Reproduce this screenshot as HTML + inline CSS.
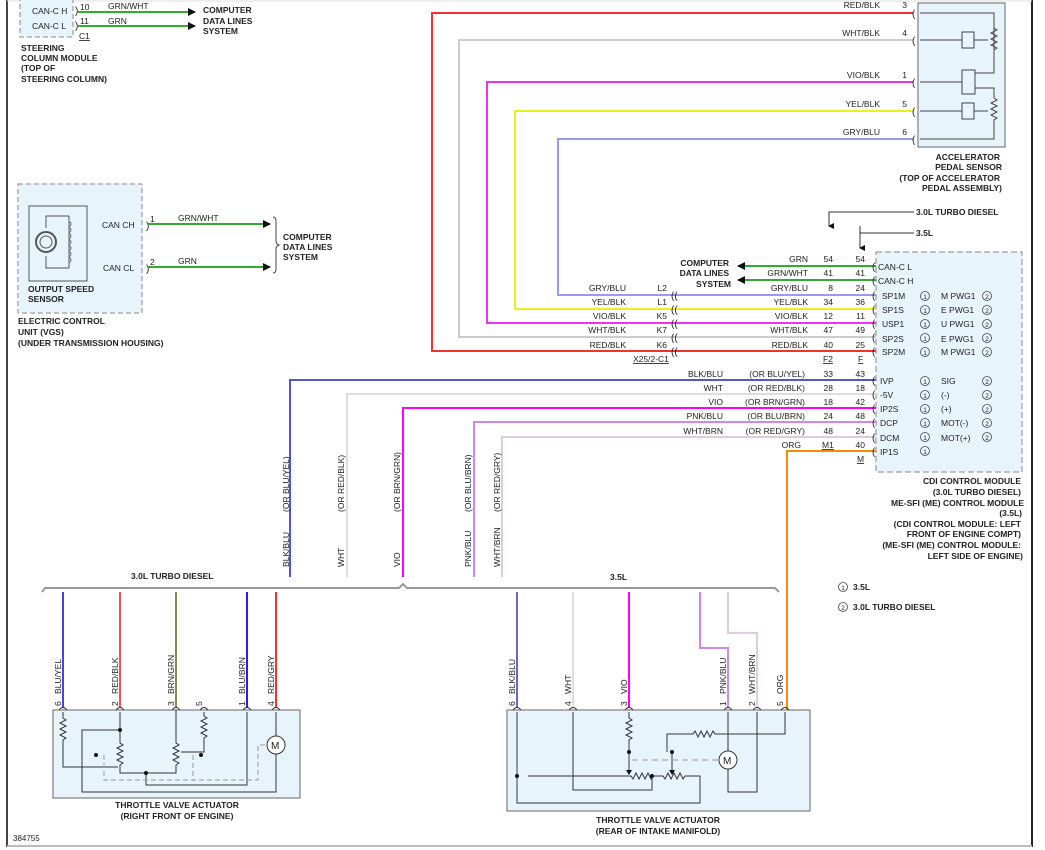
<!DOCTYPE html>
<html><head><meta charset="utf-8"><style>
html,body{margin:0;padding:0;background:#fff;}
svg{display:block;font-family:"Liberation Sans",sans-serif;font-size:8.5px;fill:#222;}
text{fill:#222;}
.b{font-weight:bold;}
</style></head><body>
<svg width="1045" height="850" viewBox="0 0 1045 850" xmlns="http://www.w3.org/2000/svg">
<defs>
<marker id="ar" markerWidth="8" markerHeight="8" refX="7" refY="4" orient="auto" markerUnits="userSpaceOnUse"><path d="M0,0 L8,4 L0,8 z" fill="#111"/></marker>
<marker id="ad" markerWidth="6" markerHeight="6" refX="3" refY="5" orient="auto" markerUnits="userSpaceOnUse"><path d="M0,0 L6,0 L3,6 z" fill="#111"/></marker>
</defs>
<!-- borders -->
<line x1="7" y1="0" x2="7" y2="847" stroke="#444" stroke-width="2"/>
<line x1="1032" y1="0" x2="1032" y2="847" stroke="#222" stroke-width="2"/>
<line x1="7" y1="846" x2="1032" y2="846" stroke="#bbb" stroke-width="2"/>
<line x1="7" y1="1" x2="1032" y2="1" stroke="#ddd" stroke-width="1"/>

<!-- steering column module -->
<rect x="20" y="-5" width="53" height="42" fill="#e8f4fb" stroke="#888" stroke-dasharray="5,3"/>
<text x="32" y="14">CAN-C H</text><text x="32" y="29">CAN-C L</text>
<text x="75" y="14" font-size="10">)</text><text x="75" y="29" font-size="10">)</text>
<text x="80" y="10">10</text><text x="80" y="24">11</text>
<text x="108" y="9">GRN/WHT</text><text x="108" y="24">GRN</text>
<text x="79" y="39" text-decoration="underline">C1</text>
<line x1="78" y1="12" x2="195" y2="12" stroke="#3a3" stroke-width="2" marker-end="url(#ar)"/>
<line x1="78" y1="26" x2="195" y2="26" stroke="#3a3" stroke-width="2" marker-end="url(#ar)"/>
<text x="203" y="13" class="b">COMPUTER</text><text x="203" y="24" class="b">DATA LINES</text><text x="203" y="34" class="b">SYSTEM</text>
<text x="21" y="51" class="b">STEERING</text><text x="21" y="61" class="b">COLUMN MODULE</text><text x="21" y="71" class="b">(TOP OF</text><text x="21" y="82" class="b">STEERING COLUMN)</text>

<!-- ECU VGS -->
<rect x="18" y="184" width="124" height="129" fill="#e8f4fb" stroke="#888" stroke-dasharray="5,3"/>
<rect x="29" y="206" width="58" height="75" fill="#e8f4fb" stroke="#555"/>
<path d="M69,216 L46,216 L46,228 M46,256 L46,268 L69,268 M69,216 L69,268" fill="none" stroke="#555"/>
<circle cx="46" cy="242" r="10" fill="none" stroke="#555" stroke-width="2"/>
<circle cx="46" cy="242" r="6" fill="none" stroke="#555"/>
<path d="M69,221 q4,3 0,6 q4,3 0,6 q4,3 0,6 q4,3 0,6 q4,3 0,6 q4,3 0,6 q4,3 0,6" fill="none" stroke="#777"/>
<text x="102" y="228">CAN CH</text><text x="103" y="271">CAN CL</text>
<text x="146" y="229" font-size="10">)</text><text x="146" y="272" font-size="10">)</text>
<text x="150" y="222">1</text><text x="150" y="265">2</text>
<text x="178" y="221">GRN/WHT</text><text x="178" y="264">GRN</text>
<line x1="148" y1="224" x2="270" y2="224" stroke="#3a3" stroke-width="2" marker-end="url(#ar)"/>
<line x1="148" y1="267" x2="270" y2="267" stroke="#3a3" stroke-width="2" marker-end="url(#ar)"/>
<path d="M273,217 q3,0 3,4 v20 q0,3 3,4 q-3,1 -3,4 v20 q0,4 -3,4" fill="none" stroke="#444"/>
<text x="283" y="240" class="b">COMPUTER</text><text x="283" y="250" class="b">DATA LINES</text><text x="283" y="260" class="b">SYSTEM</text>
<text x="28" y="292" class="b">OUTPUT SPEED</text><text x="28" y="302" class="b">SENSOR</text>
<text x="18" y="324" class="b">ELECTRIC CONTROL</text><text x="18" y="335" class="b">UNIT (VGS)</text><text x="18" y="346" class="b">(UNDER TRANSMISSION HOUSING)</text>

<!-- pedal sensor wires -->
<polyline points="913,13 432,13 432,351 876,351" fill="none" stroke="#e33" stroke-width="2"/>
<polyline points="913,40 459,40 459,337 876,337" fill="none" stroke="#ccc" stroke-width="2"/>
<polyline points="913,82 487,82 487,323 876,323" fill="none" stroke="#e3e" stroke-width="2"/>
<polyline points="913,111 515,111 515,309 876,309" fill="none" stroke="#ee2" stroke-width="2"/>
<polyline points="913,139 558,139 558,295 876,295" fill="none" stroke="#99e" stroke-width="2"/>
<g text-anchor="end"><text x="880" y="8">RED/BLK</text><text x="880" y="36">WHT/BLK</text><text x="880" y="78">VIO/BLK</text><text x="880" y="107">YEL/BLK</text><text x="880" y="135">GRY/BLU</text>
<text x="907" y="8">3</text><text x="907" y="36">4</text><text x="907" y="78">1</text><text x="907" y="107">5</text><text x="907" y="135">6</text></g>
<rect x="918" y="3" width="87" height="144" fill="#e8f4fb" stroke="#666"/>
<g font-size="10"><text x="912" y="17">(</text><text x="912" y="44">(</text><text x="912" y="86">(</text><text x="912" y="115">(</text><text x="912" y="143">(</text></g>
<g fill="none" stroke="#444">
<polyline points="920,13 994,13 994,73 975,73"/>
<line x1="920" y1="40" x2="962" y2="40"/><rect x="962" y="32" width="12" height="16"/><line x1="974" y1="40" x2="988" y2="40"/>
<path d="M994,28 l3,2 -6,3 6,3 -6,3 6,3 -6,3 6,3 -3,2"/>
<line x1="920" y1="82" x2="962" y2="82"/><rect x="962" y="70" width="13" height="24"/>
<polyline points="975,88 994,88 994,98"/>
<path d="M994,98 l3,2 -6,3 6,3 -6,3 6,3 -6,3 6,3 -3,2 v9"/>
<line x1="920" y1="111" x2="962" y2="111"/><rect x="962" y="103" width="12" height="16"/><line x1="974" y1="111" x2="988" y2="111"/>
<polyline points="920,139 994,139 994,122"/>
</g>
<g text-anchor="end" class="b"><text x="1000" y="160">ACCELERATOR</text><text x="1002" y="170">PEDAL SENSOR</text><text x="1000" y="181">(TOP OF ACCELERATOR</text><text x="1002" y="191">PEDAL ASSEMBLY)</text></g>

<!-- CDI -->
<polyline points="914,212 829,212 829,226" fill="none" stroke="#333" marker-end="url(#ad)"/>
<polyline points="914,233 860,233 860,226" fill="none" stroke="#333"/>
<line x1="860" y1="233" x2="860" y2="248" stroke="#333" marker-end="url(#ad)"/>
<text x="916" y="215" class="b">3.0L TURBO DIESEL</text><text x="916" y="236" class="b">3.5L</text>
<rect x="876" y="252" width="146" height="220" fill="#e8f4fb" stroke="#888" stroke-dasharray="6,3"/>
<line x1="876" y1="266" x2="738" y2="266" stroke="#3a3" stroke-width="2" marker-end="url(#ar)"/>
<line x1="876" y1="280" x2="738" y2="280" stroke="#3a3" stroke-width="2" marker-end="url(#ar)"/>
<g text-anchor="end" class="b"><text x="729" y="266">COMPUTER</text><text x="729" y="276">DATA LINES</text><text x="731" y="287">SYSTEM</text></g>
<!-- lower wires -->
<polyline points="876,380 290,380 290,577" fill="none" stroke="#55c" stroke-width="2"/>
<polyline points="876,394 347,394 347,577" fill="none" stroke="#ddd" stroke-width="2"/>
<polyline points="876,408 403,408 403,577" fill="none" stroke="#f0f" stroke-width="2"/>
<polyline points="876,422 474,422 474,577" fill="none" stroke="#c8e" stroke-width="2"/>
<polyline points="876,437 502,437 502,577" fill="none" stroke="#dcd" stroke-width="2"/>
<polyline points="876,451 787,451 787,710" fill="none" stroke="#f80" stroke-width="2"/>
<g text-anchor="end">
<text x="808" y="262">GRN</text><text x="808" y="276">GRN/WHT</text><text x="808" y="291">GRY/BLU</text><text x="808" y="305">YEL/BLK</text><text x="808" y="319">VIO/BLK</text><text x="808" y="333">WHT/BLK</text><text x="808" y="348">RED/BLK</text>
<text x="833" y="262">54</text><text x="833" y="276">41</text><text x="833" y="291">8</text><text x="833" y="305">34</text><text x="833" y="319">12</text><text x="833" y="333">47</text><text x="833" y="348">40</text>
<text x="865" y="262">54</text><text x="865" y="276">41</text><text x="865" y="291">24</text><text x="865" y="305">36</text><text x="865" y="319">11</text><text x="865" y="333">49</text><text x="865" y="348">25</text>
<text x="626" y="291">GRY/BLU</text><text x="626" y="305">YEL/BLK</text><text x="626" y="319">VIO/BLK</text><text x="626" y="333">WHT/BLK</text><text x="626" y="348">RED/BLK</text>
<text x="667" y="291">L2</text><text x="667" y="305">L1</text><text x="667" y="319">K5</text><text x="667" y="333">K7</text><text x="667" y="348">K6</text>
<text x="723" y="377">BLK/BLU</text><text x="723" y="391">WHT</text><text x="723" y="405">VIO</text><text x="723" y="419">PNK/BLU</text><text x="723" y="434">WHT/BRN</text>
<text x="805" y="377">(OR BLU/YEL)</text><text x="805" y="391">(OR RED/BLK)</text><text x="805" y="405">(OR BRN/GRN)</text><text x="805" y="419">(OR BLU/BRN)</text><text x="805" y="434">(OR RED/GRY)</text>
<text x="833" y="377">33</text><text x="833" y="391">28</text><text x="833" y="405">18</text><text x="833" y="419">24</text><text x="833" y="434">48</text><text x="801" y="448">ORG</text>
<text x="865" y="377">43</text><text x="865" y="391">18</text><text x="865" y="405">42</text><text x="865" y="419">48</text><text x="865" y="434">24</text><text x="865" y="448">40</text>
</g>
<text x="633" y="362" text-decoration="underline">X25/2-C1</text>
<text x="823" y="362" text-decoration="underline">F2</text><text x="858" y="362" text-decoration="underline">F</text>
<text x="822" y="448" text-decoration="underline">M1</text><text x="857" y="462" text-decoration="underline">M</text>
<g font-size="10" fill="#444"><text x="671" y="299">((</text><text x="671" y="313">((</text><text x="671" y="327">((</text><text x="671" y="341">((</text><text x="671" y="355">((</text>
<text x="872" y="270">(</text><text x="872" y="284">(</text><text x="872" y="299">(</text><text x="872" y="313">(</text><text x="872" y="327">(</text><text x="872" y="341">(</text><text x="872" y="355">(</text>
<text x="872" y="384">(</text><text x="872" y="398">(</text><text x="872" y="412">(</text><text x="872" y="426">(</text><text x="872" y="441">(</text><text x="872" y="455">(</text></g>
<text x="878" y="270">CAN-C L</text><text x="878" y="284">CAN-C H</text>
<g>
<text x="882" y="299">SP1M</text><text x="882" y="313">SP1S</text><text x="882" y="327">USP1</text><text x="882" y="342">SP2S</text><text x="882" y="355">SP2M</text>
<text x="941" y="299">M PWG1</text><text x="941" y="313">E PWG1</text><text x="941" y="327">U PWG1</text><text x="941" y="342">E PWG1</text><text x="941" y="355">M PWG1</text>
<text x="880" y="384">IVP</text><text x="880" y="398">-5V</text><text x="880" y="412">IP2S</text><text x="880" y="426">DCP</text><text x="880" y="441">DCM</text><text x="880" y="455">IP1S</text>
<text x="941" y="384">SIG</text><text x="941" y="398">(-)</text><text x="941" y="412">(+)</text><text x="941" y="426">MOT(-)</text><text x="941" y="441">MOT(+)</text>
</g>
<g fill="none" stroke="#444" stroke-width="0.8">
<circle cx="925" cy="296" r="4.5"/><circle cx="925" cy="310" r="4.5"/><circle cx="925" cy="324" r="4.5"/><circle cx="925" cy="338" r="4.5"/><circle cx="925" cy="352" r="4.5"/>
<circle cx="987" cy="296" r="4.5"/><circle cx="987" cy="310" r="4.5"/><circle cx="987" cy="324" r="4.5"/><circle cx="987" cy="338" r="4.5"/><circle cx="987" cy="352" r="4.5"/>
<circle cx="925" cy="381" r="4.5"/><circle cx="925" cy="395" r="4.5"/><circle cx="925" cy="409" r="4.5"/><circle cx="925" cy="423" r="4.5"/><circle cx="925" cy="437" r="4.5"/><circle cx="925" cy="451" r="4.5"/>
<circle cx="987" cy="381" r="4.5"/><circle cx="987" cy="395" r="4.5"/><circle cx="987" cy="409" r="4.5"/><circle cx="987" cy="423" r="4.5"/><circle cx="987" cy="437" r="4.5"/>
<circle cx="843" cy="587" r="4.5"/><circle cx="843" cy="607" r="4.5"/>
</g>
<g font-size="6.5" text-anchor="middle">
<text x="925" y="299">1</text><text x="925" y="313">1</text><text x="925" y="327">1</text><text x="925" y="341">1</text><text x="925" y="355">1</text>
<text x="987" y="299">2</text><text x="987" y="313">2</text><text x="987" y="327">2</text><text x="987" y="341">2</text><text x="987" y="355">2</text>
<text x="925" y="384">1</text><text x="925" y="398">1</text><text x="925" y="412">1</text><text x="925" y="426">1</text><text x="925" y="440">1</text><text x="925" y="454">1</text>
<text x="987" y="384">2</text><text x="987" y="398">2</text><text x="987" y="412">2</text><text x="987" y="426">2</text><text x="987" y="440">2</text>
<text x="843" y="590">1</text><text x="843" y="610">2</text>
</g>
<text x="853" y="590" class="b">3.5L</text><text x="853" y="610" class="b">3.0L TURBO DIESEL</text>
<g text-anchor="end" class="b"><text x="1021" y="484">CDI CONTROL MODULE</text><text x="1021" y="495">(3.0L TURBO DIESEL)</text><text x="1024" y="506">ME-SFI (ME) CONTROL MODULE</text><text x="1022" y="516">(3.5L)</text><text x="1021" y="527">(CDI CONTROL MODULE: LEFT</text><text x="1021" y="537">FRONT OF ENGINE COMPT)</text><text x="1021" y="548">(ME-SFI (ME) CONTROL MODULE:</text><text x="1023" y="559">LEFT SIDE OF ENGINE)</text></g>

<!-- vertical labels middle -->
<g font-size="8.5">
<text transform="translate(289,567) rotate(-90)">BLK/BLU</text><text transform="translate(289,512) rotate(-90)">(OR BLU/YEL)</text>
<text transform="translate(344,567) rotate(-90)">WHT</text><text transform="translate(344,512) rotate(-90)">(OR RED/BLK)</text>
<text transform="translate(400,567) rotate(-90)">VIO</text><text transform="translate(400,512) rotate(-90)">(OR BRN/GRN)</text>
<text transform="translate(471,567) rotate(-90)">PNK/BLU</text><text transform="translate(471,512) rotate(-90)">(OR BLU/BRN)</text>
<text transform="translate(500,567) rotate(-90)">WHT/BRN</text><text transform="translate(500,512) rotate(-90)">(OR RED/GRY)</text>
</g>
<!-- bracket -->
<polyline points="42,592 45,588 399,588 403,584 407,588 775,588 779,592" fill="none" stroke="#999" stroke-width="2"/>
<text x="131" y="579" class="b">3.0L TURBO DIESEL</text><text x="610" y="580" class="b">3.5L</text>

<!-- left actuator wires -->
<line x1="63" y1="592" x2="63" y2="708" stroke="#44e" stroke-width="2"/>
<line x1="120" y1="592" x2="120" y2="708" stroke="#e55" stroke-width="2"/>
<line x1="176" y1="592" x2="176" y2="708" stroke="#885" stroke-width="2"/>
<line x1="247" y1="592" x2="247" y2="708" stroke="#22e" stroke-width="2"/>
<line x1="276" y1="592" x2="276" y2="708" stroke="#e33" stroke-width="2"/>
<g font-size="8.5">
<text transform="translate(61,694) rotate(-90)">BLU/YEL</text><text transform="translate(61,706) rotate(-90)">6</text>
<text transform="translate(118,694) rotate(-90)">RED/BLK</text><text transform="translate(118,706) rotate(-90)">2</text>
<text transform="translate(174,694) rotate(-90)">BRN/GRN</text><text transform="translate(174,706) rotate(-90)">3</text>
<text transform="translate(202,706) rotate(-90)">5</text>
<text transform="translate(245,694) rotate(-90)">BLU/BRN</text><text transform="translate(245,706) rotate(-90)">1</text>
<text transform="translate(274,694) rotate(-90)">RED/GRY</text><text transform="translate(274,706) rotate(-90)">4</text>
</g>
<rect x="53" y="710" width="247" height="88" fill="#e8f4fb" stroke="#666"/>
<g fill="none" stroke="#333">
<path d="M59,710 q4,-5 8,0 M116,710 q4,-5 8,0 M172,710 q4,-5 8,0 M200,710 q4,-5 8,0 M243,710 q4,-5 8,0 M272,710 q4,-5 8,0"/>
<path d="M63,712 v6 l3,2 -6,3 6,3 -6,3 6,3 -6,3 6,3 -3,2 v27 h55"/>
<path d="M120,712 v18 h-38 v62 h194 v-38"/>
<path d="M120,730 v13 l3,2 -6,3 6,3 -6,3 6,3 -6,3 6,3 -3,2 v8 h56 v-8 l3,-2 -6,-3 6,-3 -6,-3 6,-3 -6,-3 6,-3 -3,-2 v-33"/>
<path d="M204,712 v4 l3,2 -6,3 6,3 -6,3 6,3 -6,3 6,3 -3,2 v14 h-23"/>
<path d="M146,773 v12 h101 v-73"/>
<path d="M276,712 v24"/>
<path d="M104,755 v25 h154 v-35 h9 M193,755 v25" stroke="#999" stroke-dasharray="5,3"/>
<circle cx="276" cy="745" r="9" fill="#fff"/>
</g>
<text x="271" y="749" font-size="10">M</text>
<g fill="#111"><circle cx="96" cy="755" r="2"/><circle cx="120" cy="730" r="2"/><circle cx="201" cy="755" r="2"/><circle cx="146" cy="773" r="2"/></g>
<text x="177" y="808" text-anchor="middle" class="b">THROTTLE VALVE ACTUATOR</text>
<text x="177" y="819" text-anchor="middle" class="b">(RIGHT FRONT OF ENGINE)</text>

<!-- right actuator wires -->
<line x1="517" y1="592" x2="517" y2="708" stroke="#66c" stroke-width="2"/>
<line x1="573" y1="592" x2="573" y2="708" stroke="#ddd" stroke-width="2"/>
<line x1="629" y1="592" x2="629" y2="708" stroke="#f0f" stroke-width="2"/>
<polyline points="700,592 700,648 728,648 728,708" fill="none" stroke="#c8e" stroke-width="2"/>
<polyline points="728,592 728,633 757,633 757,708" fill="none" stroke="#dcd" stroke-width="2"/>
<g font-size="8.5">
<text transform="translate(515,694) rotate(-90)">BLK/BLU</text><text transform="translate(515,706) rotate(-90)">6</text>
<text transform="translate(571,694) rotate(-90)">WHT</text><text transform="translate(571,706) rotate(-90)">4</text>
<text transform="translate(627,694) rotate(-90)">VIO</text><text transform="translate(627,706) rotate(-90)">3</text>
<text transform="translate(726,694) rotate(-90)">PNK/BLU</text><text transform="translate(726,706) rotate(-90)">1</text>
<text transform="translate(755,694) rotate(-90)">WHT/BRN</text><text transform="translate(755,706) rotate(-90)">2</text>
<text transform="translate(783,694) rotate(-90)">ORG</text><text transform="translate(783,706) rotate(-90)">5</text>
</g>
<rect x="507" y="710" width="303" height="101" fill="#e8f4fb" stroke="#666"/>
<g fill="none" stroke="#333">
<path d="M513,710 q4,-5 8,0 M569,710 q4,-5 8,0 M625,710 q4,-5 8,0 M724,710 q4,-5 8,0 M753,710 q4,-5 8,0 M781,710 q4,-5 8,0"/>
<path d="M517,712 v91 h183 v-27 h-15 l-2,3 -3,-6 -3,6 -3,-6 -3,6 -3,-6 -3,6 -2,-3 h-10 l-2,3 -3,-6 -3,6 -3,-6 -3,6 -3,-6 -3,6 -2,-3 h-103"/>
<path d="M573,712 v78 h79 v-14"/>
<path d="M629,712 v6 l3,2 -6,3 6,3 -6,3 6,3 -6,3 6,3 -3,2 v21"/>
<path d="M672,752 v18 M629,752 v18"/>
<path d="M785,712 v22 h-70 l-2,-3 -3,6 -3,-6 -3,6 -3,-6 -3,6 -3,-6 -2,3 h-26 v18"/>
<path d="M728,712 v39 M728,769 v23 h29 v-80"/>
<path d="M632,760 h87" stroke="#999" stroke-dasharray="6,4"/>
<circle cx="728" cy="760" r="9" fill="#fff"/>
</g>
<text x="723" y="764" font-size="10">M</text>
<g fill="#111"><circle cx="517" cy="776" r="2"/><circle cx="629" cy="752" r="2"/><circle cx="672" cy="752" r="2"/><circle cx="652" cy="776" r="2"/>
<path d="M626,770 h6 l-3,5 z"/><path d="M669,770 h6 l-3,5 z"/></g>
<text x="658" y="823" text-anchor="middle" class="b">THROTTLE VALVE ACTUATOR</text>
<text x="658" y="834" text-anchor="middle" class="b">(REAR OF INTAKE MANIFOLD)</text>

<text x="13" y="841" font-size="8">384755</text>
</svg>
</body></html>
